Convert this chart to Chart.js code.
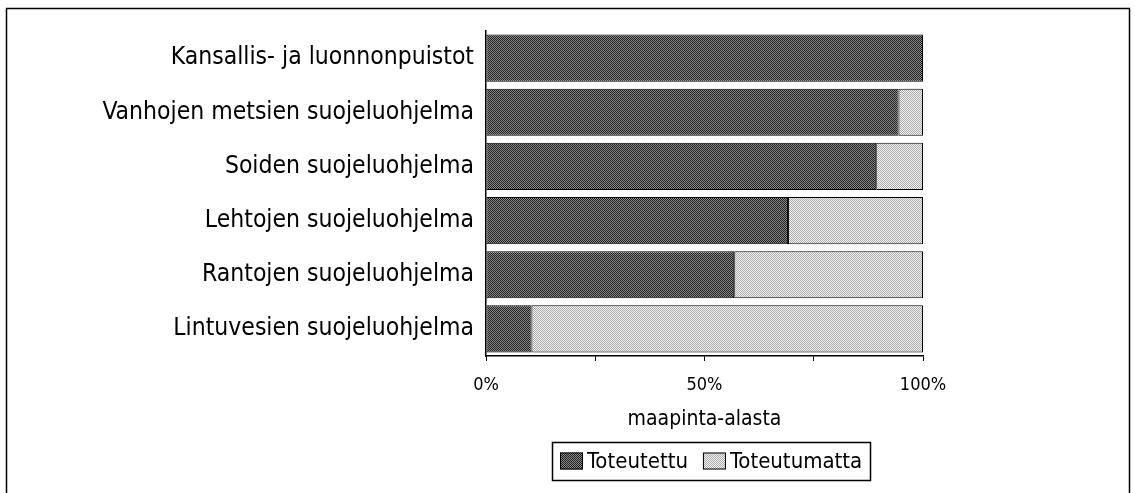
<!DOCTYPE html>
<html lang="fi">
<head>
    <meta charset="UTF-8">
    <title>Suojeluohjelmien toteutuminen</title>
    <script src="https://cdn.jsdelivr.net/npm/chart.js"></script>
</head>
<style>
    html, body { margin: 0; padding: 0; background: #fff; }
    #wrap { width: 1135px; height: 493px; }
</style>
<body>
    <div id="wrap"><canvas id="myChart"></canvas></div>

    <script>
        // ohjelmat ja toteutumisaste (% maapinta-alasta)
        const categories = [
            'Kansallis- ja luonnonpuistot',
            'Vanhojen metsien suojeluohjelma',
            'Soiden suojeluohjelma',
            'Lehtojen suojeluohjelma',
            'Rantojen suojeluohjelma',
            'Lintuvesien suojeluohjelma'
        ];
        const toteutettu   = [100, 94.4, 89.3, 69.1, 56.8, 10.4];
        const toteutumatta = [0, 5.6, 10.7, 30.9, 43.2, 89.6];
        const seriesNames  = ['Toteutettu', 'Toteutumatta'];
        const tickLabels   = { 0: '0%', 50: '50%', 100: '100%' };
        const axisTitle    = 'maapinta-alasta';

        const FONT = "'Liberation Sans Narrow', 'DejaVu Sans Condensed', 'Arial Narrow', sans-serif";

        // rasterikuvio kuten alkuperäisessä tulosteessa
        function dither(a, b) {
            const c = document.createElement('canvas');
            c.width = 2; c.height = 2;
            const g = c.getContext('2d');
            g.fillStyle = a; g.fillRect(0, 0, 2, 2);
            g.fillStyle = b; g.fillRect(0, 0, 1, 1); g.fillRect(1, 1, 1, 1);
            return g.createPattern(c, 'repeat');
        }
        const darkFill = dither('#8a8a8a', '#1e1e1e');
        const lightFill = dither('#f2f2f2', '#ababab');

        // kehys ja selite piirretään itse
        const frame = {
            id: 'frame',
            beforeDraw(chart) {
                const ctx = chart.ctx;
                ctx.save();
                ctx.fillStyle = '#fff';
                ctx.fillRect(0, 0, chart.width, chart.height);
                ctx.strokeStyle = '#000';
                ctx.lineWidth = 1.5;
                ctx.strokeRect(6.5, 8.5, 1123, 490);
                ctx.restore();
            },
            afterDraw(chart) {
                const ctx = chart.ctx;
                const fills = [darkFill, lightFill];
                ctx.save();
                ctx.font = '22px ' + FONT;
                ctx.textBaseline = 'middle';
                const sw = 23, sh = 17, gap = 4, between = 15, pad = 8;
                let total = pad * 2;
                seriesNames.forEach((n, i) => {
                    total += sw + gap + ctx.measureText(n).width + (i ? 0 : between);
                });
                const cx = 711, top = 442, h = 38;
                let x = Math.round(cx - total / 2);
                ctx.strokeStyle = '#000';
                ctx.lineWidth = 1.5;
                ctx.strokeRect(x + 0.5, top + 0.5, Math.round(total), h);
                x += pad;
                seriesNames.forEach((n, i) => {
                    const sy = top + (h - sh) / 2;
                    ctx.fillStyle = fills[i];
                    ctx.fillRect(x, sy, sw, sh);
                    ctx.lineWidth = 1;
                    ctx.strokeRect(x + 0.5, sy + 0.5, sw - 1, sh - 1);
                    x += sw + gap;
                    ctx.fillStyle = '#000';
                    ctx.fillText(n, x, top + h / 2 + 1);
                    x += ctx.measureText(n).width + between;
                });
                ctx.restore();
            }
        };

        const ctx = document.getElementById('myChart').getContext('2d');
        new Chart(ctx, {
            type: 'bar',
            data: {
                labels: categories,
                datasets: [{
                    label: seriesNames[0],
                    data: toteutettu,
                    backgroundColor: darkFill,
                    borderColor: '#000',
                    borderWidth: 1,
                    borderSkipped: false
                }, {
                    label: seriesNames[1],
                    data: toteutumatta,
                    backgroundColor: lightFill,
                    borderColor: '#000',
                    borderWidth: 1,
                    borderSkipped: false
                }]
            },
            plugins: [frame],
            options: {
                indexAxis: 'y',
                responsive: true,
                maintainAspectRatio: false,
                devicePixelRatio: 1,
                animation: false,
                categoryPercentage: 0.87,
                barPercentage: 1,
                layout: {
                    padding: { top: 31, right: 212, bottom: 0, left: 0 }
                },
                plugins: {
                    legend: { display: false },
                    tooltip: { enabled: false }
                },
                scales: {
                    x: {
                        stacked: true,
                        min: 0,
                        max: 100,
                        ticks: {
                            stepSize: 25,
                            autoSkip: false,
                            maxRotation: 0,
                            color: '#000',
                            padding: 14,
                            font: { family: FONT, size: 18 },
                            callback: v => tickLabels[v] || ''
                        },
                        grid: {
                            drawOnChartArea: false,
                            drawTicks: true,
                            tickLength: 5,
                            color: '#000'
                        },
                        border: { display: true, color: '#000', width: 1.5 },
                        title: {
                            display: true,
                            text: axisTitle,
                            color: '#000',
                            font: { family: FONT, size: 21 },
                            padding: { top: 0, bottom: 61 }
                        },
                        afterFit: s => { s.height = 137; }
                    },
                    y: {
                        stacked: true,
                        ticks: {
                            color: '#000',
                            padding: 12,
                            font: { family: FONT, size: 24.5 }
                        },
                        grid: { drawOnChartArea: false, drawTicks: false },
                        border: { display: true, color: '#000', width: 1.5 },
                        afterFit: s => { s.width = 486; }
                    }
                }
            }
        });
    </script>
</body>
</html>
